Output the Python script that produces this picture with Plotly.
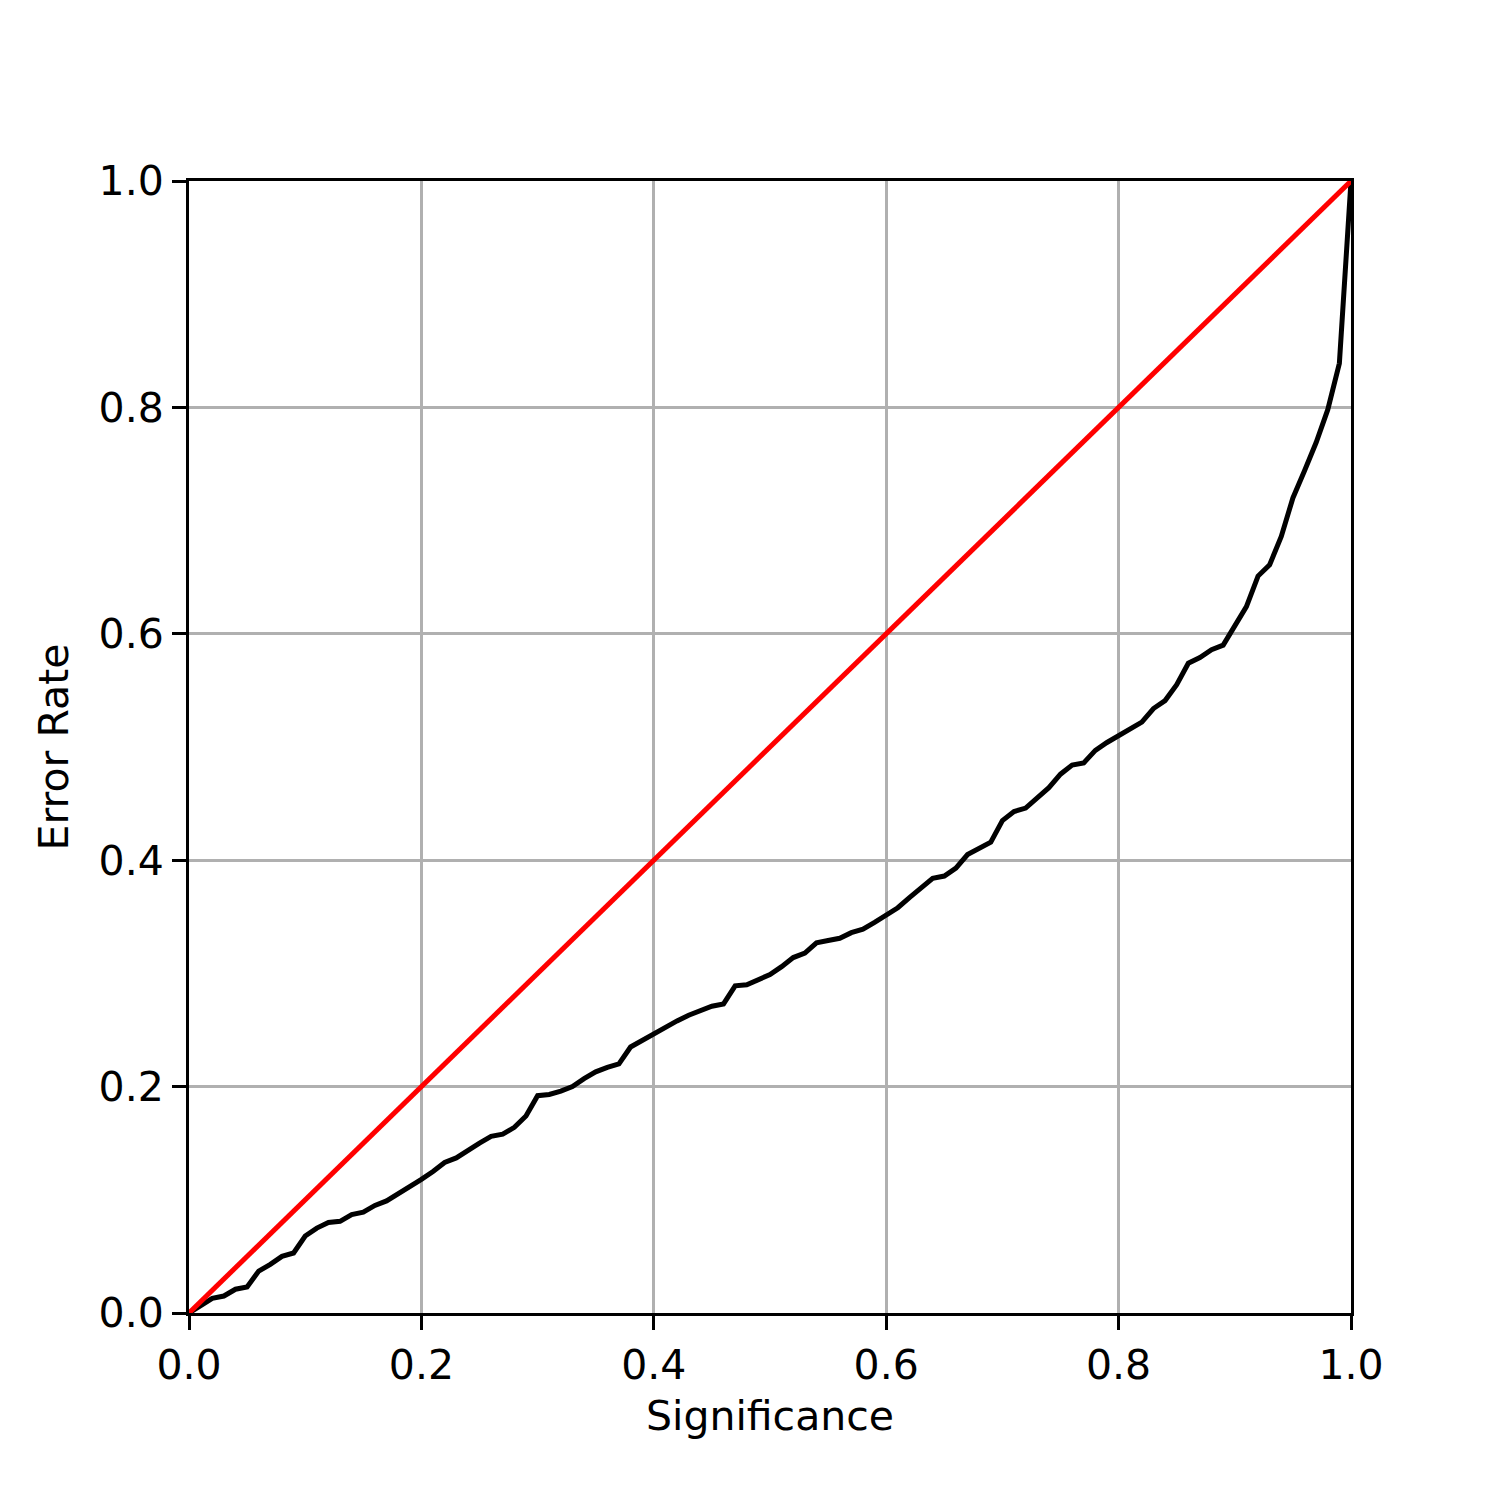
import plotly.graph_objects as go

# significancia vs tasa de error (curva de calibracion)
significance = [i / 100 for i in range(101)]
error_rate = [
    0.000, 0.007, 0.013, 0.015, 0.021, 0.023, 0.037, 0.043, 0.050, 0.053,
    0.068, 0.075, 0.080, 0.081, 0.087, 0.089, 0.095, 0.099, 0.105, 0.112,
    0.118, 0.125, 0.133, 0.137, 0.144, 0.150, 0.156, 0.158, 0.164, 0.174,
    0.192, 0.193, 0.196, 0.200, 0.207, 0.213, 0.217, 0.220, 0.235, 0.241,
    0.246, 0.252, 0.258, 0.263, 0.267, 0.271, 0.273, 0.289, 0.290, 0.294,
    0.299, 0.306, 0.314, 0.318, 0.327, 0.329, 0.331, 0.336, 0.339, 0.345,
    0.351, 0.358, 0.367, 0.376, 0.384, 0.386, 0.393, 0.405, 0.410, 0.416,
    0.435, 0.443, 0.446, 0.455, 0.464, 0.476, 0.484, 0.486, 0.497, 0.504,
    0.510, 0.516, 0.522, 0.534, 0.541, 0.555, 0.574, 0.579, 0.586, 0.590,
    0.606, 0.624, 0.651, 0.661, 0.686, 0.720, 0.744, 0.769, 0.798, 0.839,
    1.000,
]
diag_x = [0.0, 1.0]
diag_y = [0.0, 1.0]

font_family = "DejaVu Sans"

fig = go.Figure()

fig.add_trace(go.Scatter(
    x=significance, y=error_rate,
    mode='lines',
    line=dict(color='black', width=5),
    showlegend=False
))

fig.add_trace(go.Scatter(
    x=diag_x, y=diag_y,
    mode='lines',
    line=dict(color='red', width=5),
    showlegend=False
))

axis_common = dict(
    range=[0, 1],
    dtick=0.2,
    tick0=0,
    tickformat='.1f',
    showgrid=True,
    gridcolor='#b0b0b0',
    gridwidth=2.5,
    zeroline=False,
    showline=True,
    linecolor='black',
    linewidth=3,
    mirror=True,
    ticks='outside',
    ticklen=14,
    tickwidth=3,
    tickcolor='black',
    tickfont=dict(family=font_family, size=41, color='black'),
)

fig.update_xaxes(
    title=dict(text='Significance', font=dict(family=font_family, size=41, color='black'), standoff=14),
    **axis_common
)
fig.update_yaxes(
    title=dict(text='Error Rate', font=dict(family=font_family, size=41, color='black'), standoff=18),
    **axis_common
)

# la pagina añade ~8px de margen al body, se compensa aqui
fig.update_layout(
    width=1500,
    height=1500,
    margin=dict(l=181, r=157, t=173, b=195),
    plot_bgcolor='white',
    paper_bgcolor='white',
    showlegend=False
)

fig.write_html("out.html")
